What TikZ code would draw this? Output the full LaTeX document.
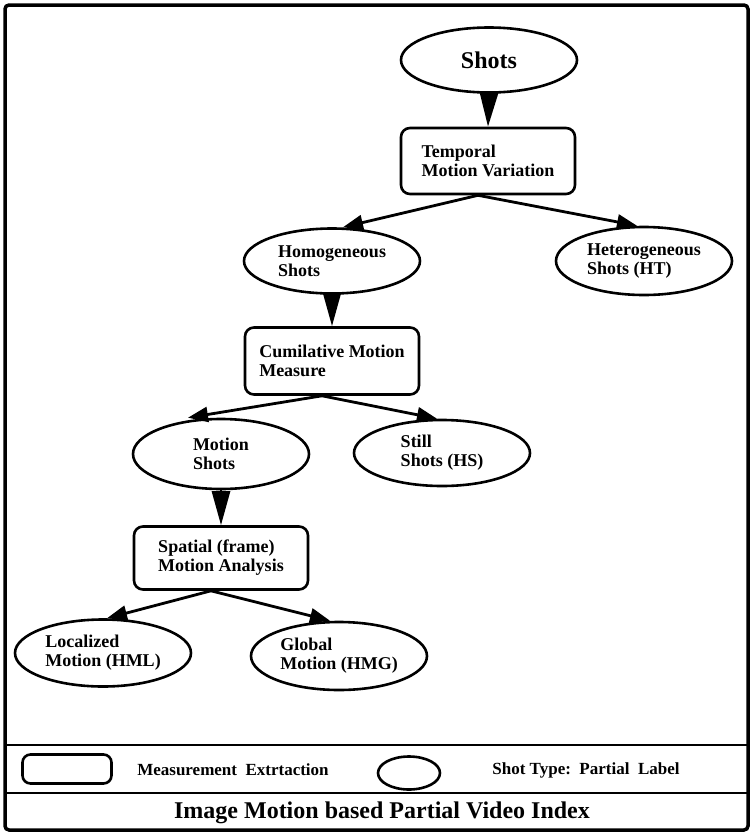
\documentclass[tikz,border=0pt]{standalone}
\usepackage{fontspec}
\setmainfont{Liberation Serif}
\usetikzlibrary{shapes.geometric,arrows.meta}
\begin{document}
\begin{tikzpicture}
  [x=1pt,y=-1pt,line width=2.6pt,
   every node/.style={align=left,inner sep=0pt,font=\bfseries\fontsize{18}{19}\selectfont},
   mbox/.style={draw,rectangle,rounded corners=9pt,minimum width=174pt,minimum height=65pt},
   stype/.style={draw,ellipse,minimum width=176pt,minimum height=66pt},
   flow/.style={-{Triangle[length=20pt,width=15pt]},line width=2.8pt},
   down/.style={-{Triangle[length=34pt,width=18pt]},line width=2.8pt}]
  \tikzstyle{legend} = [font=\bfseries\fontsize{17}{19}\selectfont]
  \useasboundingbox (0,0) rectangle (751,833);
  \draw[line width=3.5pt,rounded corners=4pt] (5,5) rectangle (748,830);
  \draw (5,745) -- (748,745);
  \draw (5,793) -- (748,793);

  \node[stype,minimum height=65pt,font=\bfseries\fontsize{24}{26}\selectfont] (n1) at (489,60) {Shots};
  \node[mbox,minimum height=66pt] (n2) at (488,161) {Temporal\\Motion Variation};
  \node[stype,minimum height=65pt] (n3) at (332,261) {Homogeneous\\Shots};
  \node[stype,minimum height=68pt] (n4) at (644,261) {Heterogeneous\\Shots (HT)};
  \node[mbox,minimum height=67pt] (n5) at (332,361) {Cumilative Motion\\Measure};
  \node[stype,minimum height=70pt] (n6) at (221,454) {Motion\\Shots};
  \node[stype,minimum height=66pt] (n7) at (442,453) {Still\\Shots (HS)};
  \node[mbox,minimum height=63pt] (n8) at (221,558) {Spatial (frame)\\Motion Analysis};
  \node[stype,minimum height=67pt] (n9) at (103,653) {Localized\\Motion (HML)};
  \node[stype,minimum height=68pt] (n10) at (339,656) {Global\\Motion (HMG)};

\foreach \source /\dest in {n1/n2,n3/n5,n6/n8}
   \draw[down] (\source.south) -- (\dest.north);
\foreach \source /\dest /\shift in {n2/n3/11,n2/n4/-7,n5/n6/-33,n5/n7/-5,n8/n9/4,n8/n10/-9}
   \draw[flow] ([xshift=-10pt]\source.south) -- ([xshift=\shift pt]\dest.north);

  % legend
  \node[mbox,minimum width=89pt,minimum height=29pt,rounded corners=8pt] (k1) at (67,769) {};
  \node[legend] (k2) at (233,770) {Measurement\ \ Extrtaction};
  \node[draw,ellipse,minimum width=62pt,minimum height=33pt] (k3) at (409,773) {};
  \node[legend] (k4) at (586,770) {Shot Type:\ \ Partial\ \ Label};
  \node[font=\bfseries\fontsize{24}{26}\selectfont] (title) at (382,813) {Image Motion based Partial Video Index};
  \end{tikzpicture}
\end{document}
